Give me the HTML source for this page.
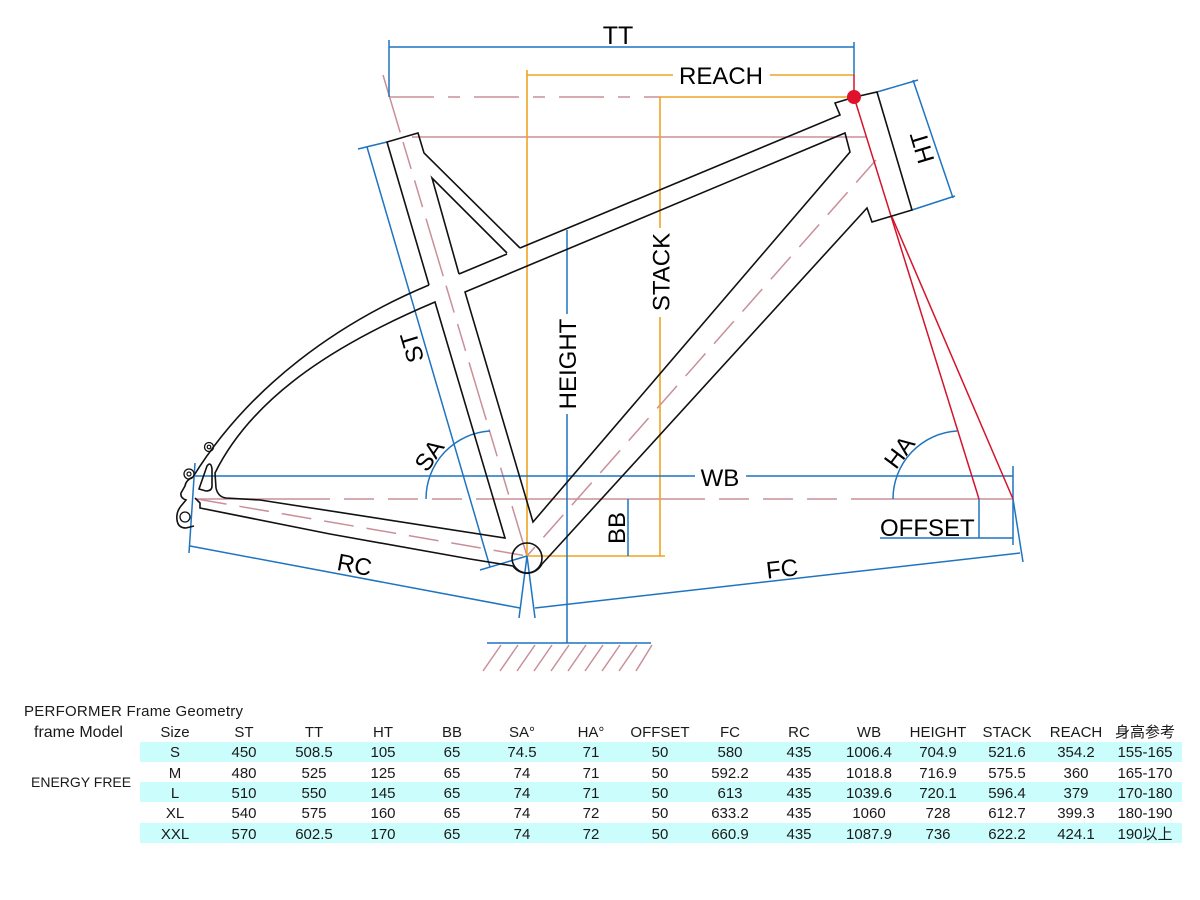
<!DOCTYPE html>
<html>
<head>
<meta charset="utf-8">
<style>
html,body{margin:0;padding:0;background:#fff;width:1200px;height:900px;overflow:hidden;}
svg{display:block;}
</style>
</head>
<body>
<svg width="1200" height="900" viewBox="0 0 1200 900" xmlns="http://www.w3.org/2000/svg">
<rect width="1200" height="900" fill="#fff"/>

<!-- table bands -->
<rect x="140" y="742" width="1042" height="20" fill="#ccfdfd"/>
<rect x="140" y="782" width="1042" height="20" fill="#ccfdfd"/>
<rect x="140" y="823" width="1042" height="20" fill="#ccfdfd"/>

<!-- PINK reference lines -->
<g fill="none" stroke="#c98f99" stroke-width="1.5">
  <line x1="389" y1="97" x2="660" y2="97" stroke-dasharray="45 14 12 14"/>
  <line x1="412" y1="137" x2="866" y2="137"/>
  <line x1="383" y1="75" x2="527" y2="556" stroke-dasharray="60 10 28 12 28 12"/>
  <line x1="876" y1="160" x2="527" y2="556" stroke-dasharray="30 13"/>
  <line x1="197" y1="499" x2="527" y2="556" stroke-dasharray="30 13"/>
  <line x1="197" y1="499" x2="300" y2="499"/>
  <line x1="300" y1="499" x2="500" y2="499" stroke-dasharray="30 14"/>
  <line x1="500" y1="499" x2="675" y2="499"/>
  <line x1="675" y1="499" x2="875" y2="499" stroke-dasharray="30 14"/>
  <line x1="875" y1="499" x2="1013" y2="499"/>
  <!-- ground hatch -->
  <line x1="483" y1="671" x2="501" y2="645"/>
  <line x1="500" y1="671" x2="518" y2="645"/>
  <line x1="517" y1="671" x2="535" y2="645"/>
  <line x1="534" y1="671" x2="552" y2="645"/>
  <line x1="551" y1="671" x2="569" y2="645"/>
  <line x1="568" y1="671" x2="586" y2="645"/>
  <line x1="585" y1="671" x2="603" y2="645"/>
  <line x1="602" y1="671" x2="620" y2="645"/>
  <line x1="619" y1="671" x2="637" y2="645"/>
  <line x1="636" y1="671" x2="652" y2="645"/>
</g>

<!-- ORANGE -->
<g fill="none" stroke="#eea321" stroke-width="1.6">
  <line x1="527" y1="70" x2="527" y2="556"/>
  <line x1="527" y1="75" x2="673" y2="75"/>
  <line x1="770" y1="75" x2="854" y2="75"/>
  <line x1="660" y1="97" x2="854" y2="97"/>
  <line x1="660" y1="97" x2="660" y2="228"/>
  <line x1="660" y1="317" x2="660" y2="556"/>
  <line x1="527" y1="556" x2="665" y2="556"/>
</g>

<!-- BLUE dimension lines -->
<g fill="none" stroke="#1f74c0" stroke-width="1.5">
  <line x1="389" y1="47" x2="854" y2="47"/>
  <line x1="389" y1="40" x2="389" y2="97"/>
  <line x1="854" y1="42" x2="854" y2="75"/>
  <line x1="195" y1="476" x2="695" y2="476"/>
  <line x1="746" y1="476" x2="1013" y2="476"/>
  <line x1="195" y1="463" x2="189" y2="553"/>
  <line x1="1013" y1="466" x2="1013" y2="545"/>
  <line x1="190" y1="546" x2="520" y2="608"/>
  <line x1="527" y1="556" x2="519" y2="618"/>
  <line x1="527" y1="556" x2="535" y2="618"/>
  <line x1="535" y1="608" x2="1020" y2="553"/>
  <line x1="1013" y1="499" x2="1023" y2="562"/>
  <line x1="880" y1="538" x2="1013" y2="538"/>
  <line x1="979" y1="499" x2="979" y2="538"/>
  <line x1="567" y1="230" x2="567" y2="314"/>
  <line x1="567" y1="414" x2="567" y2="643"/>
  <line x1="487" y1="643" x2="651" y2="643"/>
  <line x1="628" y1="499" x2="628" y2="556"/>
  <line x1="367" y1="147" x2="490" y2="567"/>
  <line x1="358" y1="149" x2="387" y2="142"/>
  <line x1="480" y1="570" x2="527" y2="556"/>
  <line x1="913" y1="80" x2="953" y2="198"/>
  <line x1="877" y1="92" x2="918" y2="80"/>
  <line x1="912" y1="210" x2="955" y2="196"/>
  <path d="M426,499 A68,68 0 0,1 490,431"/>
  <path d="M893,499 A68,68 0 0,1 957,431"/>
</g>

<!-- RED steering / fork -->
<g fill="none" stroke="#d4142c" stroke-width="1.5">
  <line x1="854" y1="75" x2="854" y2="97"/>
  <line x1="854" y1="97" x2="979" y2="499"/>
  <line x1="892" y1="217" x2="1013" y2="499"/>
</g>

<!-- BLACK frame -->
<g fill="none" stroke="#111" stroke-width="1.6" stroke-linejoin="miter">
  <path d="M429,285 L387,142 L418,133 L424,153 L520,248"/>
  <path d="M507,253 L432,178 L459,274"/>
  <path d="M459,274 L507,254"/>
  <path d="M520,248 L840,115 L835,103 L855,97 L877,92 L912,210 L872,222 L867,208 L542,564"/>
  <path d="M465,292 L845,133 L850,152 L533,522 Z"/>
  <path d="M505,538 L435,302 C345,340 255,392 215,473 L216,488 Q218,497 226,498 L260,500 Z"/>
  <path d="M429,285 C340,322 250,385 193,477"/>
  <path d="M195,498 L200,503 L200,508 L330,534 L470,559 L513,566"/>
  <circle cx="527" cy="558" r="15"/>
  <path d="M513,566 A17,17 0 0,0 542,564"/>
  <path d="M199,489 L207,466 Q211,461 212,469 L212,486 Q212,491 206,491 Z"/>
  <path d="M193,477 Q186,480 185,486 L181,493 Q180,498 186,500 L181,506 Q176,512 177,520 Q178,528 186,528 L194,526"/>
  <circle cx="189" cy="474" r="5" stroke-width="1.3"/>
  <circle cx="189" cy="474" r="2" stroke-width="1.2"/>
  <circle cx="209" cy="447" r="4.5" stroke-width="1.3"/>
  <circle cx="209" cy="447" r="1.8" stroke-width="1.2"/>
  <circle cx="185" cy="517" r="5" stroke-width="1.3"/>
</g>

<circle cx="854" cy="97" r="7" fill="#e0112b"/>

<!-- diagram labels -->
<g font-family="Liberation Sans, Arial, sans-serif" font-size="24" fill="#000">
  <text x="618" y="44" text-anchor="middle" font-size="25">TT</text>
  <text x="721" y="84" text-anchor="middle">REACH</text>
  <text x="720" y="486" text-anchor="middle">WB</text>
  <text x="880" y="536">OFFSET</text>
  <text transform="translate(930,145) rotate(-106.7)" text-anchor="middle">HT</text>
  <text transform="translate(420,345) rotate(-106.7)" text-anchor="middle">ST</text>
  <text transform="translate(669.5,272) rotate(-90)" text-anchor="middle">STACK</text>
  <text transform="translate(576,364) rotate(-90)" text-anchor="middle">HEIGHT</text>
  <text transform="translate(625,528) rotate(-90)" text-anchor="middle">BB</text>
  <text transform="translate(353,573) rotate(10.6)" text-anchor="middle">RC</text>
  <text transform="translate(783,577) rotate(-6.5)" text-anchor="middle">FC</text>
  <text transform="translate(436,460) rotate(-55)" text-anchor="middle">SA</text>
  <text transform="translate(906,457) rotate(-53)" text-anchor="middle">HA</text>
</g>

<!-- table text -->
<g font-family="Liberation Sans, 'Noto Sans CJK TC', 'Noto Sans CJK SC', sans-serif" font-size="15" fill="#1a1a1a">
  <text x="24" y="716" textLength="219" lengthAdjust="spacing">PERFORMER  Frame Geometry</text>
  <text x="34" y="737" font-size="16">frame Model</text>
  <text x="31" y="787" font-size="14">ENERGY FREE</text>
  <g text-anchor="middle">
    <text x="175" y="737">Size</text>
    <text x="244" y="737">ST</text>
    <text x="314" y="737">TT</text>
    <text x="383" y="737">HT</text>
    <text x="452" y="737">BB</text>
    <text x="522" y="737">SA°</text>
    <text x="591" y="737">HA°</text>
    <text x="660" y="737">OFFSET</text>
    <text x="730" y="737">FC</text>
    <text x="799" y="737">RC</text>
    <text x="869" y="737">WB</text>
    <text x="938" y="737">HEIGHT</text>
    <text x="1007" y="737">STACK</text>
    <text x="1076" y="737">REACH</text>
    <text x="1145" y="737">身高参考</text>
    <text x="175" y="757">S</text><text x="244" y="757">450</text><text x="314" y="757">508.5</text><text x="383" y="757">105</text><text x="452" y="757">65</text><text x="522" y="757">74.5</text><text x="591" y="757">71</text><text x="660" y="757">50</text><text x="730" y="757">580</text><text x="799" y="757">435</text><text x="869" y="757">1006.4</text><text x="938" y="757">704.9</text><text x="1007" y="757">521.6</text><text x="1076" y="757">354.2</text><text x="1145" y="757">155-165</text>
    <text x="175" y="778">M</text><text x="244" y="778">480</text><text x="314" y="778">525</text><text x="383" y="778">125</text><text x="452" y="778">65</text><text x="522" y="778">74</text><text x="591" y="778">71</text><text x="660" y="778">50</text><text x="730" y="778">592.2</text><text x="799" y="778">435</text><text x="869" y="778">1018.8</text><text x="938" y="778">716.9</text><text x="1007" y="778">575.5</text><text x="1076" y="778">360</text><text x="1145" y="778">165-170</text>
    <text x="175" y="798">L</text><text x="244" y="798">510</text><text x="314" y="798">550</text><text x="383" y="798">145</text><text x="452" y="798">65</text><text x="522" y="798">74</text><text x="591" y="798">71</text><text x="660" y="798">50</text><text x="730" y="798">613</text><text x="799" y="798">435</text><text x="869" y="798">1039.6</text><text x="938" y="798">720.1</text><text x="1007" y="798">596.4</text><text x="1076" y="798">379</text><text x="1145" y="798">170-180</text>
    <text x="175" y="818">XL</text><text x="244" y="818">540</text><text x="314" y="818">575</text><text x="383" y="818">160</text><text x="452" y="818">65</text><text x="522" y="818">74</text><text x="591" y="818">72</text><text x="660" y="818">50</text><text x="730" y="818">633.2</text><text x="799" y="818">435</text><text x="869" y="818">1060</text><text x="938" y="818">728</text><text x="1007" y="818">612.7</text><text x="1076" y="818">399.3</text><text x="1145" y="818">180-190</text>
    <text x="175" y="839">XXL</text><text x="244" y="839">570</text><text x="314" y="839">602.5</text><text x="383" y="839">170</text><text x="452" y="839">65</text><text x="522" y="839">74</text><text x="591" y="839">72</text><text x="660" y="839">50</text><text x="730" y="839">660.9</text><text x="799" y="839">435</text><text x="869" y="839">1087.9</text><text x="938" y="839">736</text><text x="1007" y="839">622.2</text><text x="1076" y="839">424.1</text><text x="1145" y="839">190以上</text>
  </g>
</g>
</svg>
</body>
</html>
